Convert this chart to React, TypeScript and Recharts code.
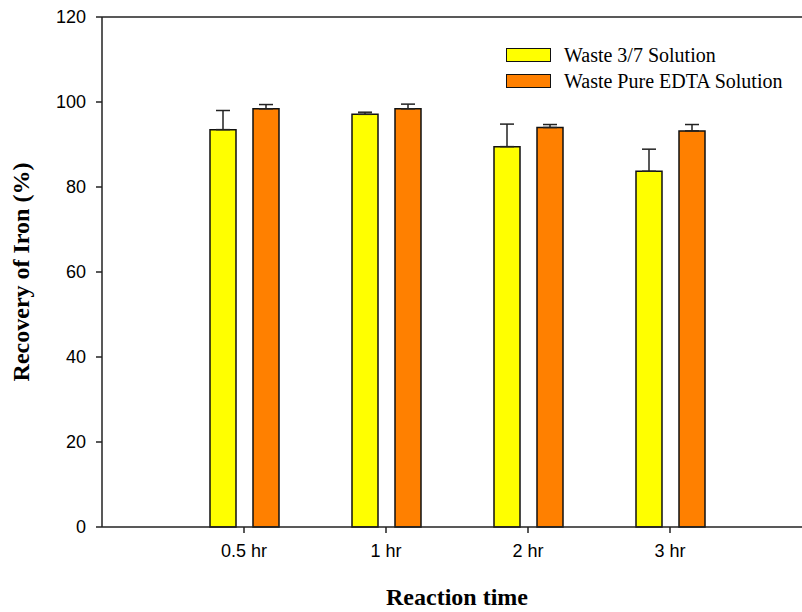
import {
  BarChart,
  Bar,
  XAxis,
  YAxis,
  ErrorBar,
  ReferenceLine,
  Legend,
} from 'recharts';

// Reaction times and recoveries (%)
const TIMES = ['0.5 hr', '1 hr', '2 hr', '3 hr'];
const MIXED = [93.5, 97.1, 89.5, 83.7];
const MIXED_ERR = [4.5, 0.5, 5.3, 5.2];
const EDTA = [98.4, 98.4, 94.0, 93.2];
const EDTA_ERR = [1.0, 1.1, 0.7, 1.5];
const Y_TICKS = [0, 20, 40, 60, 80, 100, 120];

const SANS = '"Liberation Sans", Arial, sans-serif';
const SERIF = '"Liberation Serif", "Times New Roman", serif';

const data = TIMES.map((t, i) => ({
  time: t,
  mixed: MIXED[i],
  mixedErr: [0, MIXED_ERR[i]],
  edta: EDTA[i],
  edtaErr: [0, EDTA_ERR[i]],
}));

const LEGEND_ITEMS = [
  { label: 'Waste 3/7 Solution', color: '#ffff00' },
  { label: 'Waste Pure EDTA Solution', color: '#ff8000' },
];

function LegendBox() {
  return (
    <div style={{ fontFamily: SERIF, fontSize: 20, color: '#000' }}>
      {LEGEND_ITEMS.map((item) => (
        <div
          key={item.label}
          style={{ display: 'flex', alignItems: 'center', height: 26 }}
        >
          <span
            style={{
              display: 'inline-block',
              width: 43,
              height: 12,
              background: item.color,
              border: '1.5px solid #111',
              marginRight: 13,
            }}
          />
          <span>{item.label}</span>
        </div>
      ))}
    </div>
  );
}

export default function App() {
  return (
    <div style={{ position: 'absolute', left: 0, top: 0 }}>
      <BarChart
        width={830}
        height={612}
        data={data}
        margin={{ top: 17, right: 18, bottom: 0, left: 0 }}
        barSize={26}
        barGap={17}
      >
        <XAxis
          dataKey="time"
          padding={{ left: 71, right: 71 }}
          height={85}
          tickSize={6}
          tickMargin={11}
          stroke="#222"
          strokeWidth={1.5}
          tick={{ fontFamily: SANS, fontSize: 18, fill: '#000' }}
          label={{
            value: 'Reaction time',
            position: 'insideBottom',
            offset: 7,
            style: { fontFamily: SERIF, fontSize: 24, fontWeight: 'bold', fill: '#000' },
          }}
        />
        <YAxis
          domain={[0, 120]}
          ticks={Y_TICKS}
          width={102}
          tickSize={6}
          tickMargin={10}
          stroke="#222"
          strokeWidth={1.5}
          tick={{ fontFamily: SANS, fontSize: 18, fill: '#000' }}
          label={{
            value: 'Recovery of Iron (%)',
            angle: -90,
            position: 'insideLeft',
            offset: 20,
            style: {
              fontFamily: SERIF,
              fontSize: 24,
              fontWeight: 'bold',
              fill: '#000',
              textAnchor: 'middle',
            },
          }}
        />
        <ReferenceLine y={120} stroke="#222" strokeWidth={1.5} />
        <Legend
          verticalAlign="middle"
          align="center"
          layout="horizontal"
          wrapperStyle={{ top: 42, left: 506, width: 300 }}
          content={() => <LegendBox />}
        />
        <Bar
          dataKey="mixed"
          fill="#ffff00"
          stroke="#111"
          strokeWidth={1.5}
          isAnimationActive={false}
        >
          <ErrorBar dataKey="mixedErr" width={7} stroke="#222" strokeWidth={1.5} />
        </Bar>
        <Bar
          dataKey="edta"
          fill="#ff8000"
          stroke="#111"
          strokeWidth={1.5}
          isAnimationActive={false}
        >
          <ErrorBar dataKey="edtaErr" width={7} stroke="#222" strokeWidth={1.5} />
        </Bar>
      </BarChart>
    </div>
  );
}
